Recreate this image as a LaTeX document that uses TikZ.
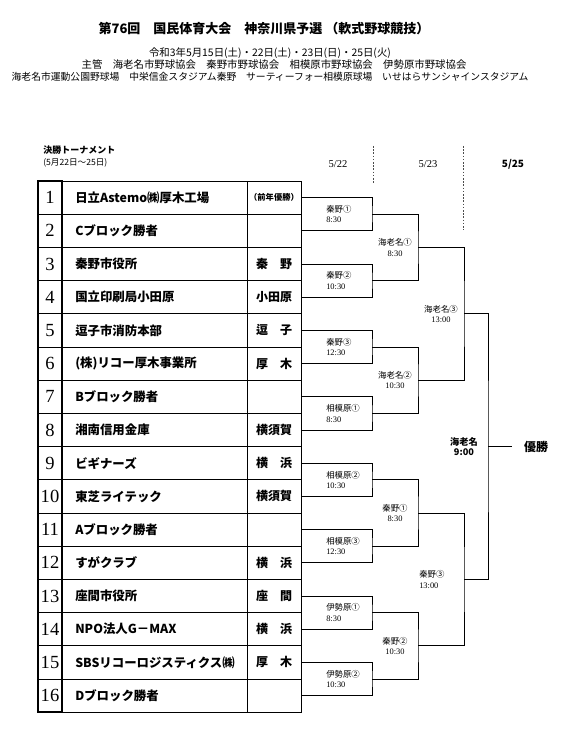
\documentclass[tikz,border=0pt]{standalone}
\usepackage{fontspec}
\newfontfamily\jp{Noto Sans CJK JP}
\newfontfamily\numf{Liberation Serif}
\begin{document}
\begin{tikzpicture}[x=0.75pt,y=-0.75pt,
  tline/.style={line width=0.7pt},
  numcol/.style={line width=1.4pt},
  br/.style={line width=0.75pt},
  dotline/.style={line width=0.6pt,dash pattern=on 1.2pt off 1.2pt,black!70},
  numtext/.style={inner sep=0pt,font=\numf\fontsize{13.9pt}{14pt}\selectfont},
  team/.style={anchor=west,inner sep=0pt,font=\jp\bfseries\fontsize{9.3pt}{10pt}\selectfont},
  region/.style={inner sep=0pt,font=\jp\bfseries\fontsize{9pt}{10pt}\selectfont},
  lab/.style={inner sep=0pt,font=\jp\fontsize{6.3pt}{7.8pt}\selectfont},
  datehead/.style={inner sep=0pt,font=\numf\fontsize{7.9pt}{8pt}\selectfont}
]
\useasboundingbox (0,0) rectangle (571,738);

% header
\node[inner sep=0pt,font=\jp\bfseries\fontsize{9.75pt}{10pt}\selectfont] (title) at (264,29) {第76回　国民体育大会　神奈川県予選 （軟式野球競技）};
\node[inner sep=0pt,font=\jp\fontsize{7.8pt}{8pt}\selectfont] (dates) at (270,53) {令和3年5月15日(土)・22日(土)・23日(日)・25日(火)};
\node[inner sep=0pt,font=\jp\fontsize{7.8pt}{8pt}\selectfont] (org) at (274,65) {主管　海老名市野球協会　秦野市野球協会　相模原市野球協会　伊勢原市野球協会};
\node[inner sep=0pt,font=\jp\fontsize{7.35pt}{8pt}\selectfont] (venue) at (270,77) {海老名市運動公園野球場　中栄信金スタジアム秦野　サーティーフォー相模原球場　いせはらサンシャインスタジアム};

\node[anchor=west,inner sep=0pt,font=\jp\bfseries\fontsize{6.75pt}{7pt}\selectfont] (final) at (43,150) {決勝トーナメント};
\node[anchor=west,inner sep=0pt,font=\jp\fontsize{6.45pt}{7pt}\selectfont] (period) at (43,163) {(5月22日～25日)};

% day headings
\node[datehead] (d1) at (338,164) {5/22};
\node[datehead] (d2) at (428,164) {5/23};
\node[inner sep=0pt,font=\jp\bfseries\fontsize{7.5pt}{8pt}\selectfont] (d3) at (513,164) {5/25};
\draw[dotline] (373,146) -- (373,183);
\draw[dotline] (463,146) -- (463,230);

% table
\draw[tline] (62,181) rectangle (301,712.2);
\draw[tline] (247,181) -- (247,712.2);
\foreach \i in {1,...,15} \draw[tline] (38,181+\i*33.2) -- (301,181+\i*33.2);
\draw[numcol] (38,181) rectangle (62,712.2);

\foreach \i/\t/\r in {
 1/日立Astemo㈱厚木工場/,
 2/Cブロック勝者/,
 3/秦野市役所/秦　野,
 4/国立印刷局小田原/小田原,
 5/逗子市消防本部/逗　子,
 6/(株)リコー厚木事業所/厚　木,
 7/Bブロック勝者/,
 8/湘南信用金庫/横須賀,
 9/ビギナーズ/横　浜,
 10/東芝ライテック/横須賀,
 11/Aブロック勝者/,
 12/すがクラブ/横　浜,
 13/座間市役所/座　間,
 14/NPO法人G－MAX/横　浜,
 15/SBSリコーロジスティクス㈱/厚　木,
 16/Dブロック勝者/}
{
  \pgfmathsetmacro{\yc}{181+(\i-0.5)*33.2}
  \node[numtext] (n\i) at (50,\yc) {\i};
  \node[team] (t\i) at (75,\yc) {\t};
  \node[region] (g\i) at (274,\yc) {\r};
  \coordinate (e\i) at (301,\yc);
}
\node[inner sep=0pt,font=\jp\bfseries\fontsize{6.2pt}{7pt}\selectfont] (champ) at (274,197.6) {（前年優勝）};

% bracket points
\coordinate (a1) at (372,214.2);
\coordinate (a2) at (372,280.6);
\coordinate (a3) at (372,347);
\coordinate (a4) at (372,413.4);
\coordinate (a5) at (372,479.8);
\coordinate (a6) at (372,546.2);
\coordinate (a7) at (372,612.6);
\coordinate (a8) at (372,679);
\coordinate (b1) at (418,247.4);
\coordinate (b2) at (418,380.2);
\coordinate (b3) at (418,513);
\coordinate (b4) at (418,645.8);
\coordinate (c1) at (464,313.8);
\coordinate (c2) at (464,579.4);
\coordinate (f) at (488,446.6);
\coordinate (fend) at (512,446.6);

\draw[br] (e1) -| (a1) |- (e2);
\draw[br] (e3) -| (a2) |- (e4);
\draw[br] (e5) -| (a3) |- (e6);
\draw[br] (e7) -| (a4) |- (e8);
\draw[br] (e9) -| (a5) |- (e10);
\draw[br] (e11) -| (a6) |- (e12);
\draw[br] (e13) -| (a7) |- (e14);
\draw[br] (e15) -| (a8) |- (e16);
\draw[br] (a1) -| (b1) |- (a2);
\draw[br] (a3) -| (b2) |- (a4);
\draw[br] (a5) -| (b3) |- (a6);
\draw[br] (a7) -| (b4) |- (a8);
\draw[br] (b1) -| (c1) |- (b2);
\draw[br] (b3) -| (c2) |- (b4);
\draw[br] (c1) -| (f) |- (c2);
\draw[br] (f) -- (fend);

% match labels
\node[lab,anchor=west,align=left] (la1) at (326,214.2) {秦野①\\{\numf 8:30}};
\node[lab,anchor=west,align=left] (la2) at (326,280.6) {秦野②\\{\numf 10:30}};
\node[lab,anchor=west,align=left] (la3) at (326,347) {秦野③\\{\numf 12:30}};
\node[lab,anchor=west,align=left] (la4) at (326,413.4) {相模原①\\{\numf 8:30}};
\node[lab,anchor=west,align=left] (la5) at (326,479.8) {相模原②\\{\numf 10:30}};
\node[lab,anchor=west,align=left] (la6) at (326,546.2) {相模原③\\{\numf 12:30}};
\node[lab,anchor=west,align=left] (la7) at (326,612.6) {伊勢原①\\{\numf 8:30}};
\node[lab,anchor=west,align=left] (la8) at (326,679) {伊勢原②\\{\numf 10:30}};
\node[lab,align=center] (lb1) at (395,247.4) {海老名①\\{\numf 8:30}};
\node[lab,align=center] (lb2) at (395,380.2) {海老名②\\{\numf 10:30}};
\node[lab,align=center] (lb3) at (395,513) {秦野①\\{\numf 8:30}};
\node[lab,align=center] (lb4) at (395,645.8) {秦野②\\{\numf 10:30}};
\node[lab,align=center] (lc1) at (441,313.8) {海老名③\\{\numf 13:00}};
\node[lab,align=left,anchor=west] (lc2) at (419,579.4) {秦野③\\{\numf 13:00}};
\node[inner sep=0pt,align=center,font=\jp\bfseries\fontsize{6.9pt}{7.4pt}\selectfont] (lf) at (464,446.6) {海老名\\9:00};
\node[inner sep=0pt,font=\jp\bfseries\fontsize{9pt}{10pt}\selectfont] (win) at (536,446.6) {優勝};
\end{tikzpicture}
\end{document}
